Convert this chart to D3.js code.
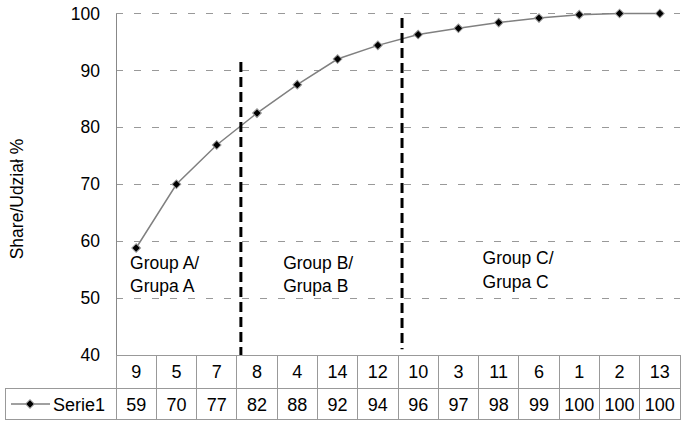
<!DOCTYPE html>
<html><head><meta charset="utf-8">
<script src="https://cdn.jsdelivr.net/npm/d3@7"></script>
<style>body{margin:0;background:#fff}svg{display:block;font-family:"Liberation Sans",Arial,sans-serif}</style>
</head><body><svg id="c" width="681" height="422"></svg>
<script>
const categories = ["9","5","7","8","4","14","12","10","3","11","6","1","2","13"];
const values = [58.8,70.0,76.9,82.5,87.5,92.0,94.4,96.3,97.4,98.4,99.2,99.8,100,100];
const tableLabels = ["59","70","77","82","88","92","94","96","97","98","99","100","100","100"];
const yTicks = [40,50,60,70,80,90,100];
const seriesName = "Serie1";
const yTitle = "Share/Udział %";
// group separators: fractional category position, top/bottom values
const separators = [{pos:3.1, top:91.5, bottom:40}, {pos:7.1, top:99.2, bottom:41}];
const groupLabels = [
  {pos:0.35, y:[55.1,51.1], lines:["Group A/","Grupa A"]},
  {pos:4.15, y:[55.1,51.1], lines:["Group B/","Grupa B"]},
  {pos:9.1, y:[56.0,51.8], lines:["Group C/","Grupa C"]}
];

const svg = d3.select("#c");
const L = 116, R = 680, T = 13.5, B = 355, row1 = 388, row2 = 420, legL = 5;
const x = d3.scaleBand().domain(categories).range([L,R]);
const xf = p => L + p * x.step();
const y = d3.scaleLinear().domain([40,100]).range([B,T]);

// gridlines
svg.append("g").selectAll("line").data(yTicks.filter(t=>t>40)).join("line")
  .attr("x1",L).attr("x2",R).attr("y1",d=>y(d)).attr("y2",d=>y(d))
  .attr("stroke","#999").attr("stroke-width",1).attr("stroke-dasharray","7,11")
  .attr("shape-rendering","crispEdges");

// y axis
const yAxis = d3.axisLeft(y).tickValues(yTicks).tickSize(0).tickPadding(16);
const ga = svg.append("g").attr("transform",`translate(${L},0)`).call(yAxis);
ga.select(".domain").attr("stroke","#888");
ga.selectAll("text").attr("font-size",17.5).attr("fill","#000").attr("font-family","Liberation Sans, Arial");

svg.append("text").attr("transform",`translate(23,199) rotate(-90)`)
  .attr("text-anchor","middle").attr("font-size",17.5).text(yTitle);

// table
const tg = svg.append("g").attr("stroke","#999").attr("stroke-width",1).attr("shape-rendering","crispEdges");
tg.append("line").attr("x1",L).attr("x2",R).attr("y1",B).attr("y2",B);
tg.append("line").attr("x1",legL).attr("x2",R).attr("y1",row1).attr("y2",row1);
tg.append("line").attr("x1",legL).attr("x2",R).attr("y1",row2-0.5).attr("y2",row2-0.5);
tg.append("line").attr("x1",legL).attr("x2",legL).attr("y1",row1).attr("y2",row2);
tg.selectAll(".v").data(d3.range(categories.length+1)).join("line")
  .attr("x1",i=>xf(i)).attr("x2",i=>xf(i)).attr("y1",B).attr("y2",row2);

svg.append("g").selectAll("text").data(categories).join("text")
  .attr("x",d=>x(d)+x.bandwidth()/2).attr("y",(B+row1)/2+6.5)
  .attr("text-anchor","middle").attr("font-size",18).text(d=>d);
svg.append("g").selectAll("text").data(tableLabels).join("text")
  .attr("x",(d,i)=>x(categories[i])+x.bandwidth()/2).attr("y",(row1+row2)/2+6.5)
  .attr("text-anchor","middle").attr("font-size",18).text(d=>d);

// legend
const ly = (row1+row2)/2;
svg.append("line").attr("x1",11).attr("x2",50).attr("y1",ly).attr("y2",ly).attr("stroke","#808080").attr("stroke-width",1.5);
const diamond = d3.symbol().type(d3.symbolSquare).size(38);
svg.append("path").attr("d",diamond()).attr("transform",`translate(30,${ly}) rotate(45)`)
  .attr("fill","#000").attr("stroke","#999").attr("stroke-width",1);
svg.append("text").attr("x",53).attr("y",ly+6.5).attr("font-size",18).text(seriesName);

// line
const line = d3.line().x((d,i)=>x(categories[i])+x.bandwidth()/2).y(d=>y(d));
svg.append("path").datum(values).attr("d",line).attr("fill","none").attr("stroke","#808080").attr("stroke-width",1.5);
svg.append("g").selectAll("path").data(values).join("path")
  .attr("d",diamond())
  .attr("transform",(d,i)=>`translate(${x(categories[i])+x.bandwidth()/2},${y(d)}) rotate(45)`)
  .attr("fill","#000").attr("stroke","#999").attr("stroke-width",1);

// separators
svg.append("g").selectAll("line").data(separators).join("line")
  .attr("x1",d=>xf(d.pos)).attr("x2",d=>xf(d.pos)).attr("y1",d=>y(d.top)).attr("y2",d=>y(d.bottom))
  .attr("stroke","#000").attr("stroke-width",3).attr("stroke-dasharray","10,5");

// group labels
groupLabels.forEach(g=>{
  g.lines.forEach((t,k)=>{
    svg.append("text").attr("x",xf(g.pos)).attr("y",y(g.y[k])).attr("font-size",17.5).text(t);
  });
});
</script></body></html>
